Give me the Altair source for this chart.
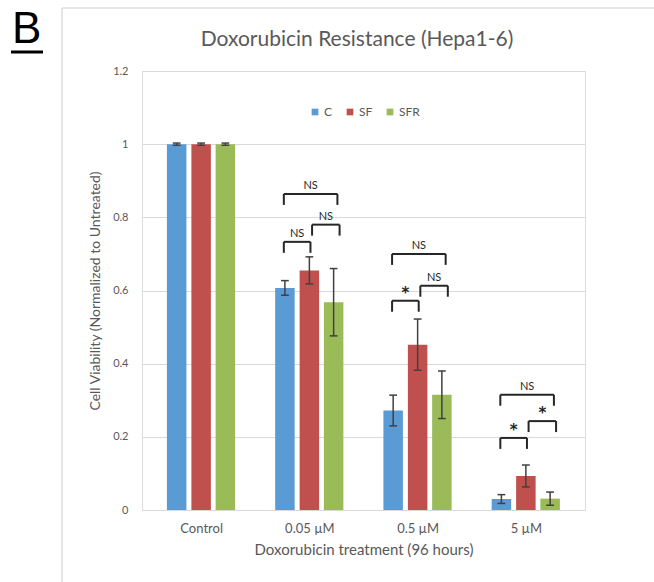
import altair as alt
import pandas as pd

# ---- data ----
groups = ["Control", "0.05 µM", "0.5 µM", "5 µM"]
series = ["C", "SF", "SFR"]
mean_C = [1.0, 0.607, 0.272, 0.030]
mean_SF = [1.0, 0.655, 0.452, 0.093]
mean_SFR = [1.0, 0.568, 0.315, 0.031]
err_C = [0.003, 0.020, 0.042, 0.012]
err_SF = [0.003, 0.037, 0.070, 0.030]
err_SFR = [0.003, 0.092, 0.065, 0.018]

# significance brackets: group index, from series, to series, level, label
br_group = [1, 1, 1, 2, 2, 2, 3, 3, 3]
br_from = ["C", "SF", "C", "C", "SF", "C", "C", "SF", "C"]
br_to = ["SF", "SFR", "SFR", "SF", "SFR", "SFR", "SF", "SFR", "SFR"]
br_level = [0.733, 0.780, 0.864, 0.572, 0.613, 0.700, 0.197, 0.243, 0.315]
br_label = ["NS", "NS", "NS", "*", "NS", "NS", "*", "*", "NS"]

title_text = "Doxorubicin Resistance (Hepa1-6)"

colors = ["#5B9BD5", "#C0504D", "#9BBB59"]
offsets = {"C": -0.226, "SF": 0.0, "SFR": 0.224}
FONT = "Lato"
GRAY = "#595959"

means = {"C": mean_C, "SF": mean_SF, "SFR": mean_SFR}
errs = {"C": err_C, "SF": err_SF, "SFR": err_SFR}
rows = []
for i, g in enumerate(groups):
    for s in series:
        m, e = means[s][i], errs[s][i]
        x = i + offsets[s]
        rows.append(dict(group=g, series=s, x=x, mean=m, lo=m - e, hi=m + e,
                         cx1=x - 0.036, cx2=x + 0.036))
df = pd.DataFrame(rows)

brows = []
for g, a, b, lv, lab in zip(br_group, br_from, br_to, br_level, br_label):
    x1 = g + offsets[a] - 0.01
    x2 = g + offsets[b] + (0.035 if b == "SFR" else 0.01) + (0.02 if a == "SF" else 0)
    if a == "SF":
        x1 = g + offsets[a] + 0.025
    brows.append(dict(x1=x1, x2=x2, xm=(x1 + x2) / 2, top=lv, bot=lv - 0.03,
                      label=lab, star=lab == "*"))
bdf = pd.DataFrame(brows)

xscale = alt.Scale(domain=[-0.5, 3.5], nice=False, zero=False)
yscale = alt.Scale(domain=[0, 1.2], nice=False)

label_expr = "[" + ",".join("'%s'" % g for g in groups) + "][datum.value]"

base = alt.Chart(df)

bars = base.mark_bar(size=19.5).encode(
    x=alt.X("x:Q", scale=xscale,
            axis=alt.Axis(values=[0, 1, 2, 3], labelExpr=label_expr, grid=False,
                          ticks=False, domain=True, domainColor="#d9d9d9",
                          labelFontSize=13, labelColor=GRAY, labelFont=FONT,
                          labelPadding=12, title="Doxorubicin treatment (96 hours)",
                          titleFontSize=15, titleColor=GRAY, titleFont=FONT,
                          titleFontWeight="normal", titlePadding=7)),
    y=alt.Y("mean:Q", scale=yscale,
            axis=alt.Axis(values=[0, 0.2, 0.4, 0.6, 0.8, 1.0, 1.2], format="~g",
                          domain=False, ticks=False, grid=True, gridColor="#d9d9d9",
                          labelFontSize=11, labelColor=GRAY, labelFont=FONT,
                          labelPadding=14,
                          title="Cell Viability (Normalized to Untreated)",
                          titleFontSize=14, titleColor=GRAY, titleFont=FONT,
                          titleFontWeight="normal", titlePadding=10)),
    color=alt.Color("series:N", scale=alt.Scale(domain=series, range=colors),
                    title=None,
                    legend=alt.Legend(orient="none", legendX=167, legendY=35,
                                      direction="horizontal", symbolType="square",
                                      symbolSize=45, symbolStrokeWidth=0,
                                      labelFontSize=12, labelColor=GRAY,
                                      labelFont=FONT, columnPadding=11,
                                      labelOffset=3)),
)

err_rule = base.mark_rule(color="#404040", strokeWidth=1.5).encode(
    x="x:Q", y="lo:Q", y2="hi:Q")
cap_lo = base.mark_rule(color="#404040", strokeWidth=1.5).encode(
    x="cx1:Q", x2="cx2:Q", y="lo:Q")
cap_hi = base.mark_rule(color="#404040", strokeWidth=1.5).encode(
    x="cx1:Q", x2="cx2:Q", y="hi:Q")

bbase = alt.Chart(bdf)
br_h = bbase.mark_rule(color="#262626", strokeWidth=2).encode(
    x="x1:Q", x2="x2:Q", y="top:Q")
br_l = bbase.mark_rule(color="#262626", strokeWidth=2).encode(
    x="x1:Q", y="bot:Q", y2="top:Q")
br_r = bbase.mark_rule(color="#262626", strokeWidth=2).encode(
    x="x2:Q", y="bot:Q", y2="top:Q")
br_ns = bbase.transform_filter("!datum.star").mark_text(
    font=FONT, fontSize=11, baseline="bottom", dy=-3, color="#262626").encode(
    x="xm:Q", y="top:Q", text="label:N")
br_star = bbase.transform_filter("datum.star").mark_text(
    font="DejaVu Sans", fontSize=15, fontWeight="bold", baseline="bottom", dy=0,
    color="#262626").encode(
    x="xm:Q", y="top:Q", text="label:N")

one = pd.DataFrame({"k": [0]})
frame_left = alt.Chart(one).mark_rule(color="#dcdcdc", strokeWidth=1.5).encode(
    x=alt.value(-80), y=alt.value(-63), y2=alt.value(511))
frame_top = alt.Chart(one).mark_rule(color="#dcdcdc", strokeWidth=1.5).encode(
    x=alt.value(-80), x2=alt.value(512), y=alt.value(-63))
letter = alt.Chart(one).mark_text(text="B", font="Liberation Sans", fontSize=44,
                                  align="left", baseline="alphabetic",
                                  color="#000000").encode(
    x=alt.value(-130), y=alt.value(-28))
underline = alt.Chart(one).mark_rule(color="#000000", strokeWidth=3).encode(
    x=alt.value(-131), x2=alt.value(-99), y=alt.value(-19))
title = alt.Chart(one).mark_text(text=title_text, font=FONT, fontSize=21,
                                 align="center", baseline="alphabetic",
                                 color=GRAY).encode(
    x=alt.value(215), y=alt.value(-25))

chart = alt.layer(
    frame_left, frame_top, letter, underline, title,
    bars, err_rule, cap_lo, cap_hi, br_h, br_l, br_r, br_ns, br_star
).properties(
    width=443, height=439,
    autosize=alt.AutoSizeParams(type="none"),
    padding={"left": 142, "top": 71, "right": 69, "bottom": 72},
).configure_view(stroke=None).configure(background="white")

chart.save("out.html", embed_options={"renderer": "svg", "actions": False})
